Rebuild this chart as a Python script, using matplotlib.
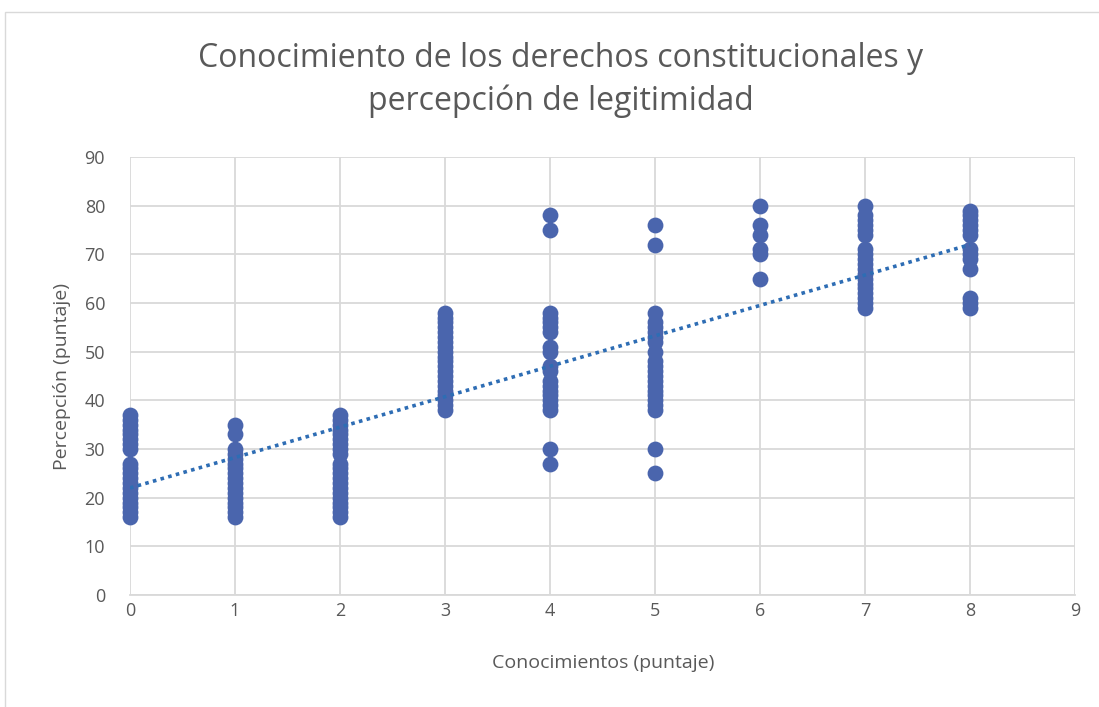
import matplotlib
matplotlib.use("Agg")
import matplotlib.pyplot as plt
import numpy as np

plt.rcParams['font.family'] = ['Open Sans', 'DejaVu Sans']

x0 = [16, 17, 18, 19, 20, 21, 22, 23, 24, 25, 26, 27, 30, 31, 32, 33, 34, 35, 36, 37]
x1 = [16, 17, 18, 19, 20, 21, 22, 23, 24, 25, 26, 27, 28, 29, 30, 33, 35]
x2 = [16, 17, 18, 19, 20, 21, 22, 23, 24, 25, 26, 27, 29, 30, 31, 32, 33, 34, 35, 36, 37]
x3 = [38, 39, 40, 41, 42, 43, 44, 45, 46, 47, 48, 49, 50, 51, 52, 53, 54, 55, 56, 57, 58]
x4 = [27, 30, 38, 39, 40, 41, 42, 43, 44, 46, 47, 50, 51, 54, 55, 56, 57, 58, 75, 78]
x5 = [25, 30, 38, 39, 40, 41, 42, 43, 44, 45, 46, 47, 48, 50, 52, 53, 54, 55, 56, 58, 72, 76]
x6 = [65, 70, 71, 74, 76, 80]
x7 = [59, 60, 61, 62, 63, 64, 65, 66, 67, 68, 69, 70, 71, 74, 75, 76, 77, 78, 80]
x8 = [59, 60, 61, 67, 69, 70, 71, 74, 75, 76, 77, 78, 79]
groups = [x0, x1, x2, x3, x4, x5, x6, x7, x8]

trend_intercept = 22.0
trend_slope = 6.25

fig = plt.figure(figsize=(10.99, 7.07), dpi=100)
ax = fig.add_axes([130/1099, 1 - 595/707, (1075-130)/1099, (595-157)/707])

xs = np.concatenate([[i]*len(g) for i, g in enumerate(groups)])
ys = np.concatenate(groups)
ax.scatter(xs, ys, s=130, color='#4A65AD', zorder=3, linewidths=0, clip_on=False)

tx = np.array([0, 8])
ax.plot(tx, trend_intercept + trend_slope*tx, linestyle=(0, (1, 1.2)), color='#2E6DB4',
        linewidth=2.6, zorder=4)

ax.set_xlim(0, 9)
ax.set_ylim(0, 90)
ax.set_xticks(range(0, 10))
ax.set_yticks(range(0, 91, 10))
ax.grid(True, color='#D9D9D9', linewidth=1.3)
ax.set_axisbelow(True)
for s in ['top', 'right', 'left']:
    ax.spines[s].set_visible(False)
ax.spines['bottom'].set_color('#D9D9D9')
ax.spines['bottom'].set_linewidth(1.3)
ax.tick_params(length=0, labelsize=13, colors='#595959')
ax.tick_params(axis='x', pad=5)
ax.tick_params(axis='y', pad=18)
ax.set_xlabel('Conocimientos (puntaje)', fontsize=14, color='#595959')
ax.set_ylabel('Percepción (puntaje)', fontsize=14, color='#595959')
ax.xaxis.set_label_coords((603-130)/(1075-130), -(663-595)/(595-157))
ax.yaxis.set_label_coords(-(130-62)/(1075-130), (595-376)/(595-157))
ax.xaxis.label.set_va('center')
ax.yaxis.label.set_va('center')

fig.text(0.51, 1 - 80/707, 'Conocimiento de los derechos constitucionales y\npercepción de legitimidad',
         ha='center', va='center', fontsize=23, color='#595959', linespacing=1.35)

fig.patches.append(plt.Rectangle((5/1099, -0.01), 1.1, 1 - 12/707 + 0.01, transform=fig.transFigure,
                                 fill=False, edgecolor='#D9D9D9', linewidth=1))

fig.savefig('out.png', dpi=100)
